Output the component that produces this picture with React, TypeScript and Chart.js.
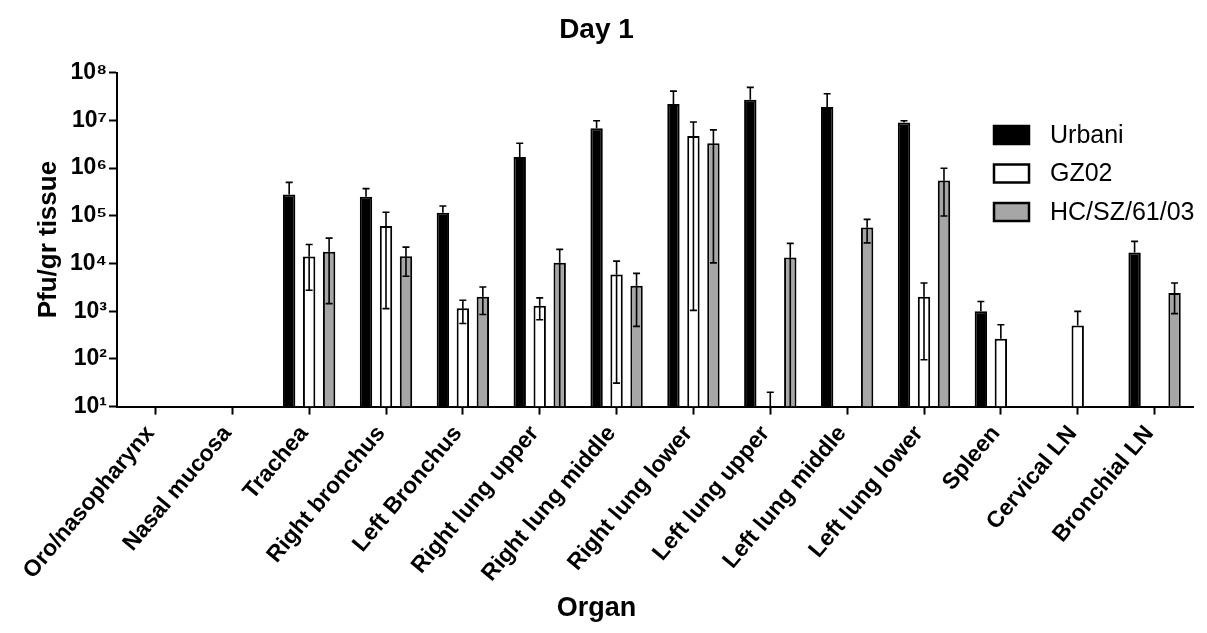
import React, { useEffect, useRef } from 'react';
import { Chart, registerables } from 'chart.js';

Chart.register(...registerables);

const FONT = '"Liberation Sans", Arial, Helvetica, sans-serif';

const categories = [
  'Oro/nasopharynx',
  'Nasal mucosa',
  'Trachea',
  'Right bronchus',
  'Left Bronchus',
  'Right lung upper',
  'Right lung middle',
  'Right lung lower',
  'Left lung upper',
  'Left lung middle',
  'Left lung lower',
  'Spleen',
  'Cervical LN',
  'Bronchial LN',
];

const seriesNames = ['Urbani', 'GZ02', 'HC/SZ/61/03'];

// bar heights (Pfu/gr tissue)
const urbaniValues = [null, null, 2.8e5, 2.5e5, 1.15e5, 1.7e6, 6.8e6, 2.2e7, 2.7e7, 1.9e7, 9.0e6, 1.0e3, null, 1.7e4];
const gz02Values = [null, null, 1.4e4, 6.1e4, 1.15e3, 1.3e3, 5.9e3, 4.7e6, null, null, 2.0e3, 2.65e2, 5.0e2, null];
const hcValues = [null, null, 1.75e4, 1.42e4, 2.0e3, 1.03e4, 3.4e3, 3.3e6, 1.34e4, 5.7e4, 5.45e5, null, null, 2.4e3];

// upper ends of error bars
const urbaniErrUp = [null, null, 5.0e5, 3.7e5, 1.6e5, 3.3e6, 9.8e6, 4.1e7, 4.9e7, 3.6e7, 9.8e6, 1.6e3, null, 2.9e4];
const gz02ErrUp = [null, null, 2.5e4, 1.18e5, 1.7e3, 1.9e3, 1.12e4, 9.2e6, 20, null, 3.9e3, 5.2e2, 9.9e2, null];
const hcErrUp = [null, null, 3.4e4, 2.2e4, 3.2e3, 1.97e4, 6.2e3, 6.3e6, 2.63e4, 8.4e4, 9.9e5, null, null, 3.9e3];

// lower ends of error bars (0 = reaches below the axis)
const urbaniErrDown = [null, null, null, null, null, null, null, null, null, null, null, null, null, null];
const gz02ErrDown = [null, null, 2.75e3, 1.13e3, 5.5e2, 6.6e2, 31, 1.04e3, null, null, 96, null, null, null];
const hcErrDown = [null, null, 1.44e3, 5.4e3, 8.5e2, 0, 4.8e2, 1.03e4, 0, 2.7e4, 9.9e4, null, null, 8.9e2];

const yTickValues = [1e1, 1e2, 1e3, 1e4, 1e5, 1e6, 1e7, 1e8];
const yTickLabels = ['10¹', '10²', '10³', '10⁴', '10⁵', '10⁶', '10⁷', '10⁸'];

const seriesFill = ['#000000', '#ffffff', '#a6a6a6'];

const errorBarPlugin = {
  id: 'errorBars',
  afterDatasetsDraw(chart: any) {
    const { ctx, chartArea } = chart;
    const yScale = chart.scales.y;
    const xScale = chart.scales.x;
    const n = chart.data.datasets.length;
    chart.data.datasets.forEach((ds: any, di: number) => {
      const meta = chart.getDatasetMeta(di);
      ds.data.forEach((v: any, i: number) => {
        const bar = meta.data[i];
        let x = bar && Number.isFinite(bar.x) ? bar.x : NaN;
        if (!Number.isFinite(x)) {
          const catW = (xScale.right - xScale.left) / categories.length;
          const slot = (catW * 0.78) / n;
          x = xScale.getPixelForValue(i) + (di - (n - 1) / 2) * slot;
        }
        const yTop = v != null ? yScale.getPixelForValue(v) : chartArea.bottom;
        ctx.save();
        ctx.strokeStyle = '#000';
        ctx.lineWidth = 1.6;
        const up = ds.errUp[i];
        if (up != null) {
          const yu = yScale.getPixelForValue(up);
          ctx.beginPath();
          ctx.moveTo(x, yTop);
          ctx.lineTo(x, yu);
          ctx.moveTo(x - 3.5, yu);
          ctx.lineTo(x + 3.5, yu);
          ctx.stroke();
        }
        const dn = ds.errDown[i];
        if (dn != null && v != null) {
          const below = dn <= yScale.min;
          const yd = below ? chartArea.bottom : yScale.getPixelForValue(dn);
          ctx.beginPath();
          ctx.moveTo(x, yTop);
          ctx.lineTo(x, yd);
          if (!below) {
            ctx.moveTo(x - 3.5, yd);
            ctx.lineTo(x + 3.5, yd);
          }
          ctx.stroke();
        }
        ctx.restore();
      });
    });
  },
};

const customLegendPlugin = {
  id: 'customLegend',
  afterDraw(chart: any) {
    const { ctx } = chart;
    const opts = chart.options.plugins.customLegend;
    ctx.save();
    seriesNames.forEach((name, i) => {
      const cy = opts.y + i * opts.rowGap;
      ctx.fillStyle = seriesFill[i];
      ctx.fillRect(opts.x, cy - opts.boxH / 2, opts.boxW, opts.boxH);
      ctx.strokeStyle = '#000';
      ctx.lineWidth = 2.5;
      ctx.strokeRect(opts.x + 1, cy - opts.boxH / 2 + 1, opts.boxW - 2, opts.boxH - 2);
      ctx.fillStyle = '#000';
      ctx.font = `25px ${FONT}`;
      ctx.textBaseline = 'middle';
      ctx.textAlign = 'left';
      ctx.fillText(name, opts.x + opts.boxW + 20, cy + 1);
    });
    ctx.restore();
  },
};

export default function App() {
  const canvasRef = useRef<HTMLCanvasElement | null>(null);

  useEffect(() => {
    document.body.style.margin = '0';
    Chart.defaults.font.family = FONT;
    Chart.defaults.color = '#000';
    const canvas = canvasRef.current;
    if (!canvas) return;

    const values = [urbaniValues, gz02Values, hcValues];
    const ups = [urbaniErrUp, gz02ErrUp, hcErrUp];
    const downs = [urbaniErrDown, gz02ErrDown, hcErrDown];

    const chart = new Chart(canvas, {
      type: 'bar',
      data: {
        labels: categories,
        datasets: seriesNames.map((name, i) => ({
          label: name,
          data: values[i] as any,
          errUp: ups[i],
          errDown: downs[i],
          backgroundColor: seriesFill[i],
          borderColor: '#000',
          borderWidth: 2,
          categoryPercentage: 0.78,
          barPercentage: 0.62,
        })) as any,
      },
      options: {
        animation: false,
        responsive: false,
        devicePixelRatio: 1,
        layout: { padding: { left: 0, right: 14, top: 0, bottom: 0 } },
        plugins: {
          legend: { display: false },
          tooltip: { enabled: false },
          title: {
            display: true,
            text: 'Day 1',
            color: '#000',
            font: { size: 28, weight: 'bold', family: FONT },
            padding: { top: 13, bottom: 26 },
          },
          subtitle: {
            display: true,
            position: 'bottom',
            text: 'Organ',
            color: '#000',
            font: { size: 27, weight: 'bold', family: FONT },
            padding: { top: 0, bottom: 8 },
          },
          customLegend: { x: 993, y: 135, rowGap: 38.5, boxW: 37, boxH: 20 },
        } as any,
        scales: {
          x: {
            type: 'category',
            offset: true,
            afterFit: (scale: any) => {
              scale.height = 186;
            },
            grid: {
              display: true,
              drawOnChartArea: false,
              drawTicks: true,
              tickLength: 8,
              tickWidth: 2,
              tickColor: '#000',
              offset: false,
            },
            border: { display: true, color: '#000', width: 2 },
            ticks: {
              color: '#000',
              font: { size: 23, weight: 'bold', family: FONT },
              minRotation: 50,
              maxRotation: 50,
              autoSkip: false,
              padding: 6,
              labelOffset: -5,
            },
          },
          y: {
            type: 'logarithmic',
            min: 10,
            max: 1e8,
            afterFit: (scale: any) => {
              scale.width = 117;
            },
            afterBuildTicks: (scale: any) => {
              scale.ticks = yTickValues.map((v) => ({ value: v, major: true }));
            },
            grid: {
              display: true,
              drawOnChartArea: false,
              drawTicks: true,
              tickLength: 8,
              tickWidth: 2,
              tickColor: '#000',
            },
            border: { display: true, color: '#000', width: 2 },
            ticks: {
              color: '#000',
              font: { size: 23, weight: 'bold', family: FONT },
              padding: 2,
              autoSkip: false,
              callback: (v: any) => {
                const idx = yTickValues.findIndex((t) => Math.abs(t - Number(v)) / t < 1e-6);
                return idx >= 0 ? yTickLabels[idx] : '';
              },
            },
            title: {
              display: true,
              text: 'Pfu/gr tissue',
              color: '#000',
              font: { size: 26, weight: 'bold', family: FONT },
              padding: { top: 33, bottom: 0 },
            },
          },
        },
      },
      plugins: [errorBarPlugin, customLegendPlugin],
    });

    return () => {
      chart.destroy();
    };
  }, []);

  return (
    <div style={{ width: 1207, height: 633 }}>
      <canvas ref={canvasRef} width={1207} height={633} style={{ display: 'block', width: 1207, height: 633 }} />
    </div>
  );
}
